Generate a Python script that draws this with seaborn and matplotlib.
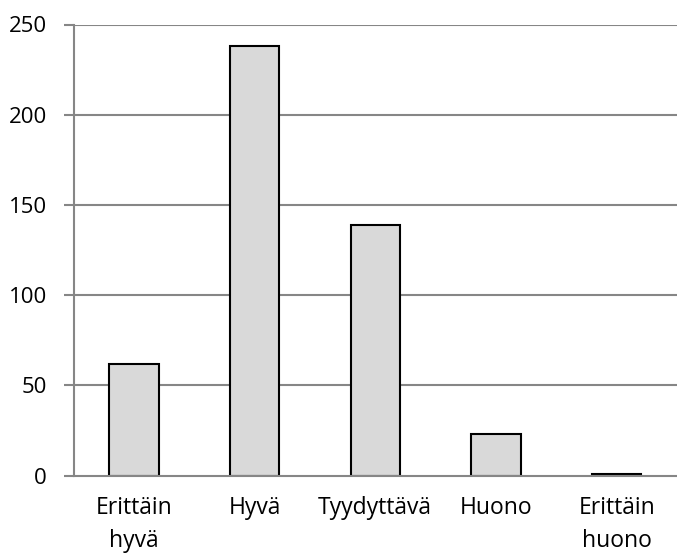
import matplotlib
matplotlib.use("Agg")
import matplotlib.pyplot as plt
import seaborn as sns
import pandas as pd
import numpy as np

categories = ["Erittäin\nhyvä", "Hyvä", "Tyydyttävä", "Huono", "Erittäin\nhuono"]
counts = [62, 238, 139, 23, 1]
y_ticks = [0, 50, 100, 150, 200, 250]

sns.set_theme(style="white")
plt.rcParams["font.family"] = ["Open Sans", "DejaVu Sans"]

df = pd.DataFrame({"category": categories, "count": counts})

fig = plt.figure(figsize=(6.77, 5.56), dpi=100)
ax = fig.add_axes([73.5 / 677, (556 - 475.5) / 556, (677 - 73.5) / 677, (475.5 - 24.5) / 556])

grid_color = "#868686"
sns.barplot(data=df, x="category", y="count", ax=ax, color="#d9d9d9",
            edgecolor="black", linewidth=1.5, width=0.41, saturation=1, zorder=3)

ax.set_ylim(0, 250)
ax.set_xlim(-0.5, len(categories) - 0.5)
ax.set_yticks(y_ticks)
ax.set_yticklabels([str(v) for v in y_ticks])
for v in y_ticks[1:]:
    ax.axhline(v, color=grid_color, linewidth=1.5, zorder=1)

# category labels centred, tick marks at the boundaries
ax.set_xticks(range(len(categories)))
ax.set_xticklabels(categories, linespacing=1.5)
ax.set_xticks(np.arange(-0.5, len(categories)), minor=True)
ax.tick_params(axis="x", which="major", length=0, pad=15, labelsize=16.5, colors="black")
ax.tick_params(axis="x", which="minor", length=7, width=1.5, color=grid_color, direction="out")
ax.tick_params(axis="y", which="major", length=7, width=1.5, color=grid_color,
               direction="out", pad=12, labelsize=16, labelcolor="black", left=True)

ax.set_xlabel("")
ax.set_ylabel("")
for side in ["top", "right"]:
    ax.spines[side].set_visible(False)
for side in ["left", "bottom"]:
    ax.spines[side].set_color(grid_color)
    ax.spines[side].set_linewidth(1.5)
    ax.spines[side].set_zorder(4)

fig.savefig("out.png", dpi=100, facecolor="white")
